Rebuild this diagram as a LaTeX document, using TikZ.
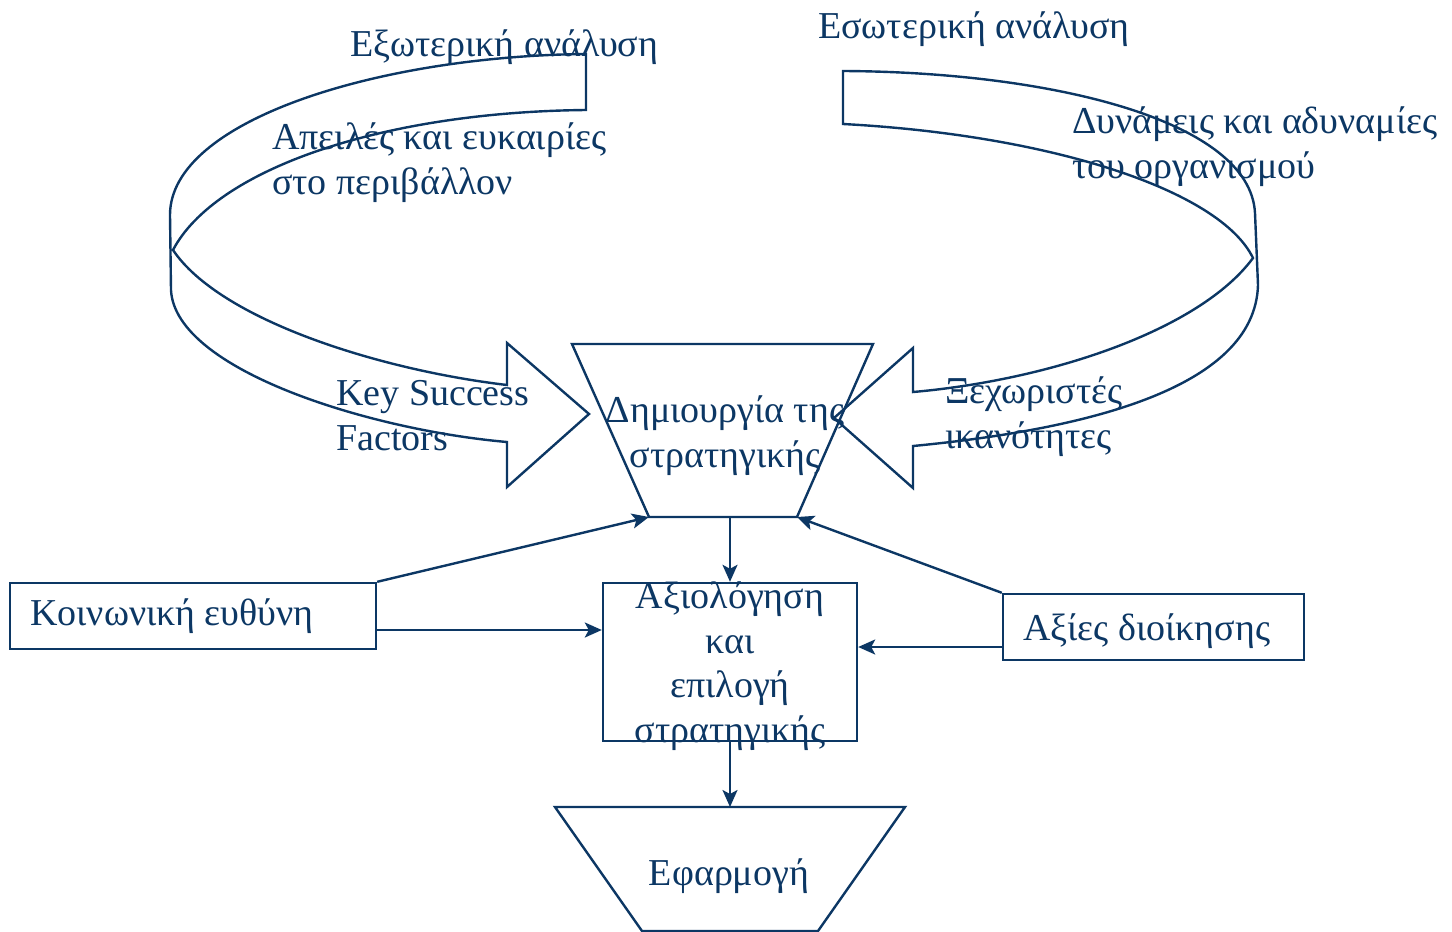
\documentclass[tikz,border=0pt]{standalone}
\usepackage{fontspec}
\setmainfont{Liberation Serif}
\usetikzlibrary{arrows.meta}
\definecolor{navy}{RGB}{12,55,100}
\tikzset{
  ln/.style={draw=navy, line width=2.4pt, line join=miter},
  arr/.style={ln, -{Stealth[length=17pt,width=15pt,inset=4pt]}},
  txt/.style={text=navy, inner sep=0pt, font=\fontsize{38}{44.5}\selectfont},
  lbl/.style={txt, anchor=base west, align=left},
  box/.style={ln, fill=white}
}
\begin{document}
\begin{tikzpicture}[x=1pt,y=-1pt]
\useasboundingbox (0,0) rectangle (1452,932);

% left curved arrow (external analysis)
\draw[ln] (586,54) .. controls (380,56) and (170,120) .. (170,215)
  -- (171,290) .. controls (175,370) and (370,430) .. (507,442)
  -- (507,487) -- (589,414) -- (507,343) -- (507,385)
  .. controls (380,370) and (220,320) .. (173,250)
  .. controls (215,170) and (380,112) .. (586,110) -- cycle;

% right curved arrow (internal analysis)
\draw[ln] (843,71) .. controls (1050,72) and (1250,120) .. (1255,213)
  -- (1258,285) .. controls (1255,390) and (1080,430) .. (913,446)
  -- (913,488) -- (834,418) -- (913,348) -- (913,392)
  .. controls (1050,380) and (1200,330) .. (1253,258)
  .. controls (1220,190) and (1050,135) .. (843,124) -- cycle;

% shapes
\coordinate (tTL) at (572,344); \coordinate (tTR) at (873,344);
\coordinate (tBL) at (649,517); \coordinate (tBR) at (797,517);
\coordinate (tB) at (730,517);
\draw[ln] (tTL) -- (tTR) -- (tBR) -- (tBL) -- cycle;

\node[ln, minimum width=254pt, minimum height=158pt, inner sep=0pt] (eval) at (730,662) {};
\node[ln, minimum width=366pt, minimum height=66pt, inner sep=0pt] (social) at (193,616) {};
\node[ln, minimum width=301pt, minimum height=66pt, inner sep=0pt] (values) at (1153.5,627) {};

\coordinate (bTL) at (555,807); \coordinate (bTR) at (905,807);
\coordinate (bBL) at (642,931); \coordinate (bBR) at (818,931);
\coordinate (bT) at (730,807);
\draw[ln] (bTL) -- (bTR) -- (bBR) -- (bBL) -- cycle;

% connectors
\draw[arr] (tB) -- (eval.north);
\draw[arr] (eval.south) -- (bT);
\draw[arr] (social.north east) -- (tBL);
\draw[arr] (social.east |- 0,630) -- (eval.west |- 0,630);
\draw[arr] (values.north west) -- (tBR);
\draw[arr] (values.west |- 0,647) -- (eval.east |- 0,647);

% texts (multi-line nodes: base = last line)
\node[lbl] (t1) at (350,56) {Εξωτερική ανάλυση};
\node[lbl] (t2) at (818,38) {Εσωτερική ανάλυση};
\node[lbl] (t3) at (272,194) {Απειλές και ευκαιρίες\\στο περιβάλλον};
\node[lbl] (t4) at (1072,178) {Δυνάμεις και αδυναμίες\\του οργανισμού};
\node[lbl] (t5) at (336,450) {Key Success\\Factors};
\node[lbl] (t6) at (945,448) {Ξεχωριστές\\ικανότητες};
\node[txt, anchor=base, align=center] (t7) at (725,467) {Δημιουργία της\\στρατηγικής};
\node[txt, anchor=base, align=center] (t8) at (730,742) {Αξιολόγηση\\και\\επιλογή\\στρατηγικής};
\node[lbl] (t9) at (30,625) {Κοινωνική ευθύνη};
\node[lbl] (t10) at (1023,640) {Αξίες διοίκησης};
\node[txt, anchor=base] (t11) at (729,885) {Εφαρμογή};
\end{tikzpicture}
\end{document}
